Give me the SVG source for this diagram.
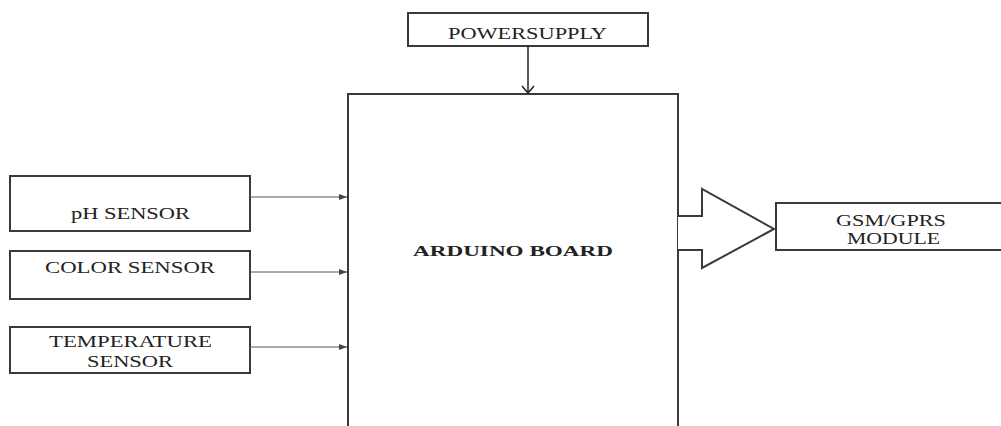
<svg xmlns="http://www.w3.org/2000/svg" width="1001" height="426" viewBox="0 0 1001 426">
<defs>
<style>
.box{fill:#fff;stroke:#3a3a3a;stroke-width:2}
.t{font-family:"Liberation Serif","Times New Roman",serif;font-size:17px;fill:#222}
.b{font-weight:bold;font-size:15px}
.thin{stroke:#555;stroke-width:1;fill:none}
</style>
<marker id="ah" markerWidth="8" markerHeight="6" refX="8" refY="3" orient="auto" markerUnits="userSpaceOnUse">
<path d="M0,0 L8,3 L0,6 Z" fill="#444"/>
</marker>
</defs>
<rect width="1001" height="426" fill="#fff"/>
<g id="power">
<rect class="box" x="408" y="13" width="240" height="33"/>
<text class="t" x="448" y="39" textLength="159" lengthAdjust="spacingAndGlyphs">POWERSUPPLY</text>
</g>
<g id="arduino">
<path class="box" d="M348,428 L348,94 L678,94 L678,428"/>
<text class="t b" x="413" y="256" textLength="200" lengthAdjust="spacingAndGlyphs">ARDUINO BOARD</text>
</g>
<g id="ph">
<rect class="box" x="10" y="176" width="240" height="55"/>
<text class="t" x="71" y="219" textLength="119" lengthAdjust="spacingAndGlyphs">pH SENSOR</text>
</g>
<g id="color">
<rect class="box" x="10" y="251" width="240" height="48"/>
<text class="t" x="45" y="273" textLength="170" lengthAdjust="spacingAndGlyphs">COLOR SENSOR</text>
</g>
<g id="temp">
<rect class="box" x="10" y="327" width="240" height="46"/>
<text class="t" x="49" y="347" textLength="163" lengthAdjust="spacingAndGlyphs">TEMPERATURE</text>
<text class="t" x="87" y="367" textLength="86" lengthAdjust="spacingAndGlyphs">SENSOR</text>
</g>
<g id="gsm">
<rect class="box" x="776" y="203" width="230" height="47"/>
<text class="t" x="836" y="226" textLength="110" lengthAdjust="spacingAndGlyphs">GSM/GPRS</text>
<text class="t" x="847" y="244" textLength="93" lengthAdjust="spacingAndGlyphs">MODULE</text>
</g>
<g id="connectors">
<line x1="528" y1="46" x2="528" y2="93" stroke="#222" stroke-width="1.5"/>
<path d="M522,86 L528,93 L534,86" fill="none" stroke="#222" stroke-width="1.5"/>
<line class="thin" x1="250" y1="197" x2="347" y2="197" marker-end="url(#ah)"/>
<line class="thin" x1="250" y1="272" x2="347" y2="272" marker-end="url(#ah)"/>
<line class="thin" x1="250" y1="347" x2="347" y2="347" marker-end="url(#ah)"/>
<path d="M678,216 L702,216 L702,189 L774,229 L702,268 L702,250 L678,250" fill="#fff" stroke="#3a3a3a" stroke-width="2" stroke-linejoin="miter"/>
</g>
</svg>
